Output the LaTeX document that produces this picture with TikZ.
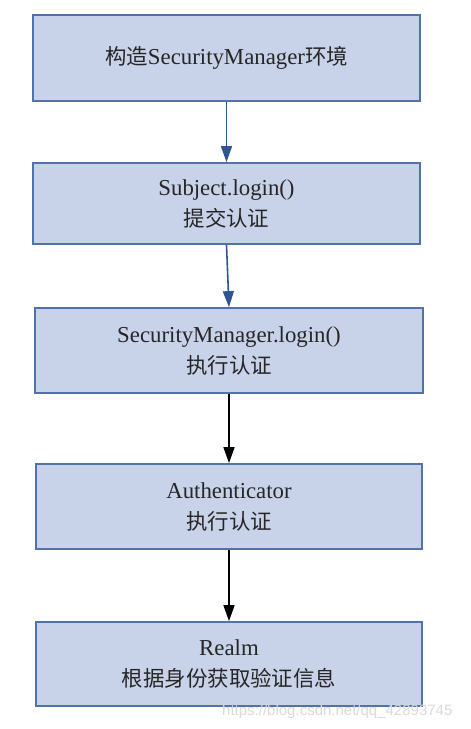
\documentclass[tikz,border=0pt]{standalone}
\usepackage{fontspec}
\setmainfont{Liberation Serif}
\newfontfamily\cjk[Scale=0.94]{Noto Sans CJK SC}
\newfontfamily\wmfont{Liberation Sans}
\usetikzlibrary{arrows.meta}
\definecolor{boxfill}{HTML}{C8D2E9}
\definecolor{boxline}{HTML}{5272AC}
\definecolor{bluearrow}{HTML}{2F5597}
\tikzset{
  stepbox/.style={draw=boxline, line width=1.8pt, fill=boxfill, rectangle,
    align=center, font=\fontsize{22.8}{31}\selectfont, text=black!85, inner sep=0pt},
  flowarrow/.style={line width=1.6pt, -{Triangle[length=16pt,width=11pt]}},
  wm/.style={text=gray!30, font=\wmfont\fontsize{15}{15}\selectfont, inner sep=0pt, anchor=west}
}
\begin{document}
\begin{tikzpicture}[x=1pt,y=-1pt]
\useasboundingbox (0,0) rectangle (471,729);
\node[stepbox, minimum width=387pt, minimum height=86pt] (b1) at (226.5,58) {{\cjk 构造}SecurityManager{\cjk 环境}};
\node[stepbox, minimum width=387pt, minimum height=81pt] (b2) at (226.5,203.5) {Subject.login()\\{\cjk 提交认证}};
\node[stepbox, minimum width=388pt, minimum height=85pt] (b3) at (229,350.5) {SecurityManager.login()\\{\cjk 执行认证}};
\node[stepbox, minimum width=386pt, minimum height=85pt] (b4) at (229,506.5) {Authenticator\\{\cjk 执行认证}};
\node[stepbox, minimum width=386pt, minimum height=84pt] (b5) at (229,664) {Realm\\{\cjk 根据身份获取验证信息}};
\draw[flowarrow, draw=bluearrow, fill=bluearrow] (b1.south) -- (b2.north);
\draw[flowarrow, draw=bluearrow, fill=bluearrow] (b2.south) -- (b3.north);
\draw[flowarrow, black] (b3.south) -- (b4.north);
\draw[flowarrow, black] (b4.south) -- (b5.north);
\node[wm] (w2) at (222,712) {https://blog.csdn.net/qq\_42893745};
\end{tikzpicture}
\end{document}
